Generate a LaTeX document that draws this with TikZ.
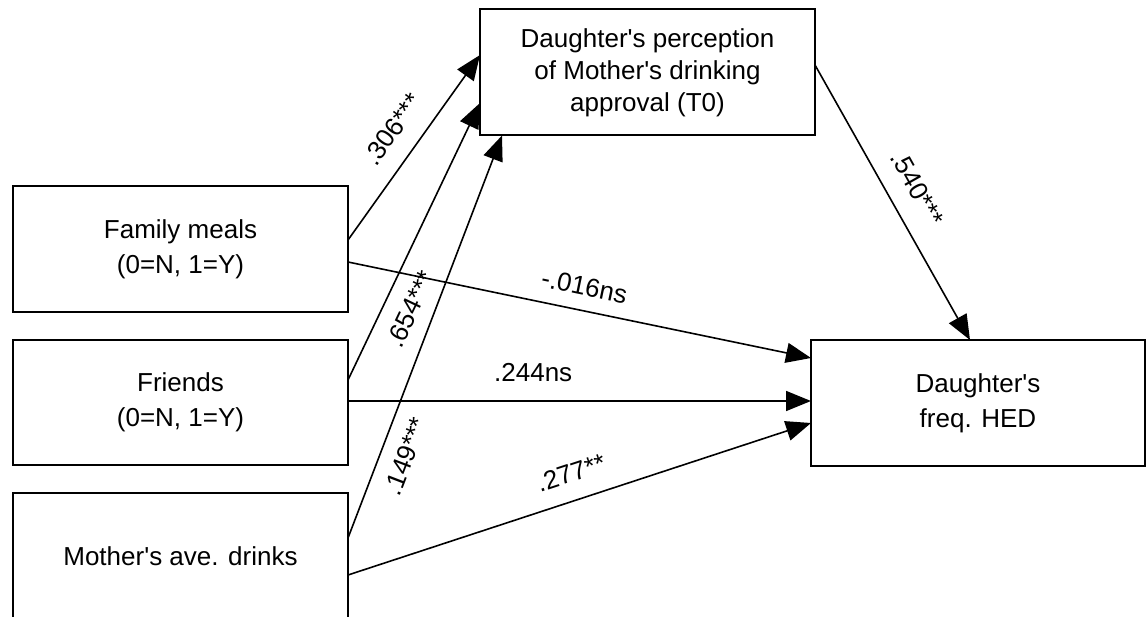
\documentclass[tikz,border=0pt]{standalone}
\usepackage{fontspec}
\setmainfont{Liberation Sans}
\usetikzlibrary{arrows.meta}
\newcommand{\ap}{\textquotesingle}
\begin{document}
\begin{tikzpicture}[x=1pt,y=-1pt,
  box/.style={draw, line width=2pt, rectangle, minimum width=335pt, minimum height=126pt,
    inner sep=0pt, outer sep=0pt, align=center, font=\fontsize{26}{35}\selectfont},
  topbox/.style={box, font=\fontsize{26}{32}\selectfont},
  conn/.style={line width=1.6pt, -{Triangle[length=25pt,width=20pt]}},
  lab/.style={inner sep=0pt, font=\fontsize{26}{30}\selectfont}]
\useasboundingbox (0,0) rectangle (1146,617);
\node[topbox] (top) at (647.5,72.5) {Daughter\ap s perception\\of Mother\ap s drinking\\approval (T0)};
\node[box] (fam) at (180.5,249) {Family meals\\(0=N, 1=Y)};
\node[box, minimum height=125pt] (fri) at (180.5,402.5) {Friends\\(0=N, 1=Y)};
\node[box, minimum height=127pt] (mom) at (180.5,556.5) {Mother\ap s ave. drinks};
\node[box, minimum width=334pt] (hed) at (978,403) {Daughter\ap s\\freq. HED};

\draw[conn] ([yshift=9pt]fam.east) -- node[lab,sloped,above=18pt,pos=0.51]{.306***} ([yshift=17.5pt]top.west);
\draw[conn] ([yshift=22.5pt]fri.east) -- node[lab,sloped,below=16pt,pos=0.296]{.654***} ([yshift=-30.5pt]top.west);
\draw[conn] ([yshift=18.5pt]mom.east) -- node[lab,sloped,below=14.5pt,pos=0.225]{.149***} ([xshift=22pt]top.south west);
\draw[conn] ([yshift=7.5pt]top.east) -- node[lab,sloped,above=18.5pt,pos=0.5]{.540***} ([xshift=-8pt]hed.north);
\draw[conn] ([yshift=-13pt]fam.east) -- node[lab,sloped,above=14pt,pos=0.5]{-.016ns} ([yshift=45pt]hed.west);
\draw[conn] ([yshift=1.5pt]fri.east) -- node[lab,above=18.5pt,pos=0.4]{.244ns} ([yshift=2pt]hed.west);
\draw[conn] ([yshift=-18.5pt]mom.east) -- node[lab,sloped,above=17.5pt,pos=0.5]{.277**} ([yshift=-20pt]hed.west);
\end{tikzpicture}
\end{document}
